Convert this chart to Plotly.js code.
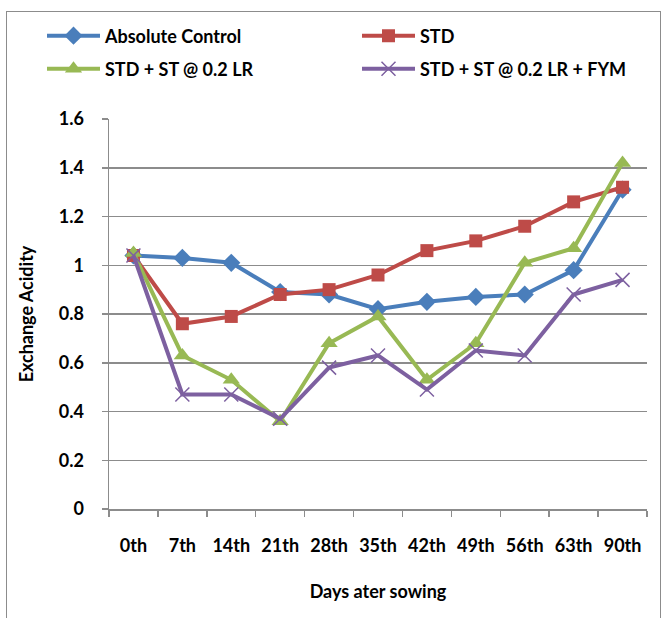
<!DOCTYPE html>
<html>
<head>
<meta charset="utf-8">
<script src="https://cdn.plot.ly/plotly-3.0.1.min.js"></script>
<style>
html,body{margin:0;padding:0;background:#fff;overflow:hidden;}
#wrap{position:relative;width:668px;height:618px;}
#chart{width:668px;height:618px;}
#frame{position:absolute;left:6px;top:11px;width:653px;height:700px;border:1.5px solid #8c8c8c;pointer-events:none;}
</style>
</head>
<body>
<div id="wrap"><div id="chart"></div><div id="frame"></div></div>
<script>
const categories = ["0th","7th","14th","21th","28th","35th","42th","49th","56th","63th","90th"];
const absoluteControl = [1.04, 1.03, 1.01, 0.89, 0.88, 0.82, 0.85, 0.87, 0.88, 0.98, 1.31];
const std = [1.04, 0.76, 0.79, 0.88, 0.90, 0.96, 1.06, 1.10, 1.16, 1.26, 1.32];
const stdSt = [1.05, 0.63, 0.53, 0.36, 0.68, 0.79, 0.53, 0.68, 1.01, 1.07, 1.42];
const stdStFym = [1.04, 0.47, 0.47, 0.37, 0.58, 0.63, 0.49, 0.65, 0.63, 0.88, 0.94];
const seriesNames = ["Absolute Control", "STD", "STD + ST @ 0.2 LR", "STD + ST @ 0.2 LR + FYM"];
const yTicks = [0, 0.2, 0.4, 0.6, 0.8, 1, 1.2, 1.4, 1.6];
const yTickText = ["0", "0.2", "0.4", "0.6", "0.8", "1", "1.2", "1.4", "1.6"];

const FONT = "Lato, 'Open Sans', sans-serif";
const FS = 18;
const tf = {family: FONT, size: FS, color: "#000", weight: "bold"};
const traces = [
  {x: categories, y: absoluteControl, name: seriesNames[0], mode: "lines+markers", legend: "legend",
   line: {color: "#4a7ebb", width: 4}, marker: {symbol: "diamond", size: 14, color: "#4a7ebb"}},
  {x: categories, y: std, name: seriesNames[1], mode: "lines+markers", legend: "legend2",
   line: {color: "#be4b48", width: 4}, marker: {symbol: "square", size: 13, color: "#be4b48"}},
  {x: categories, y: stdSt, name: seriesNames[2], mode: "lines+markers", legend: "legend3",
   line: {color: "#98b954", width: 4}, marker: {symbol: "triangle-up", size: 15, color: "#98b954"}},
  {x: categories, y: stdStFym, name: seriesNames[3], mode: "lines+markers", legend: "legend4",
   line: {color: "#7d60a0", width: 4}, marker: {symbol: "x-thin-open", size: 14, color: "#7d60a0", line: {color: "#7d60a0", width: 1.5}}}
];

function leg(px, py) {
  return {
    orientation: "h", xref: "container", yref: "container",
    x: px/668, y: 1 - py/618, xanchor: "left", yanchor: "middle",
    itemwidth: 53, font: tf, bgcolor: "rgba(0,0,0,0)"
  };
}

const layout = {
  width: 668, height: 618,
  margin: {l: 109, r: 21, t: 119, b: 109, autoexpand: false},
  paper_bgcolor: "#ffffff", plot_bgcolor: "#ffffff",
  font: tf,
  showlegend: true,
  legend: leg(42, 36),
  legend2: leg(357, 36),
  legend3: leg(42, 69),
  legend4: leg(357, 69),
  xaxis: {
    type: "category", range: [-0.5, 10.5],
    tickvals: categories, ticktext: categories,
    showline: true, linecolor: "#8c8c8c", linewidth: 1.5,
    ticks: "outside", tickson: "boundaries", ticklen: 6, tickcolor: "#8c8c8c", tickwidth: 1.5,
    ticklabelstandoff: 20,
    showgrid: false, zeroline: false,
    tickfont: tf,
    title: {text: "Days ater sowing", standoff: 30, font: tf}
  },
  yaxis: {
    range: [0, 1.6], tickvals: yTicks, ticktext: yTickText,
    showline: true, linecolor: "#8c8c8c", linewidth: 1.5,
    ticks: "outside", ticklen: 6, tickcolor: "#8c8c8c", tickwidth: 1.5,
    ticklabelstandoff: 14,
    showgrid: true, gridcolor: "#8c8c8c", gridwidth: 1.5, zeroline: false,
    tickfont: tf,
    title: {text: "Exchange Acidity", standoff: 20, font: tf}
  }
};

Plotly.newPlot("chart", traces, layout, {displayModeBar: false, staticPlot: true});
</script>
</body>
</html>
